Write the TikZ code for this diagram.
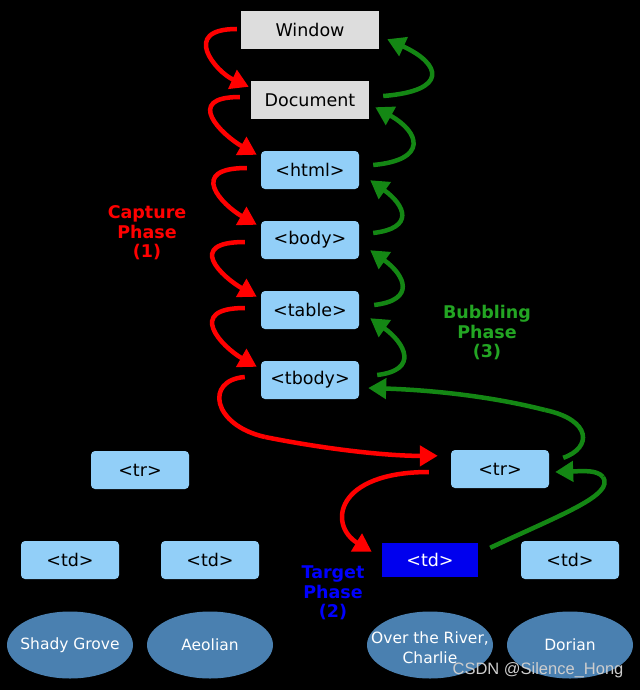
\documentclass[tikz,border=0pt]{standalone}
\usepackage{fontspec}
\setmainfont{DejaVu Sans}
\newfontfamily\wmfont{Liberation Sans}
\usetikzlibrary{arrows.meta,shapes.geometric}
\definecolor{boxblue}{RGB}{146,207,248}
\definecolor{boxgray}{RGB}{221,221,221}
\definecolor{ellblue}{RGB}{74,128,176}
\definecolor{grnarrow}{RGB}{20,135,20}
\definecolor{grntext}{RGB}{35,165,35}
\definecolor{tgtblue}{RGB}{0,0,238}
\definecolor{wmgray}{RGB}{205,205,205}
\begin{document}
\begin{tikzpicture}[x=1pt,y=1pt,
  boxtext/.style={font=\fontsize{17.5}{20}\selectfont, inner sep=0pt},
  graybox/.style={boxtext, fill=boxgray, minimum height=38pt},
  bluebox/.style={boxtext, fill=boxblue, rounded corners=4pt, minimum width=98pt, minimum height=38pt},
  tgtbox/.style={boxtext, fill=tgtblue, text=white, minimum width=96pt, minimum height=34pt},
  leaf/.style={ellipse, fill=ellblue, minimum width=126pt, minimum height=67pt, inner sep=0pt},
  leaftext/.style={text=white, align=center, inner sep=0pt, font=\fontsize{15.5}{20}\selectfont},
  phase/.style={align=center, inner sep=0pt, font=\bfseries\fontsize{17.5}{19.5}\selectfont},
  redarr/.style={draw=red, line width=4.5pt, -{Triangle[length=18pt,width=20pt]}},
  grnarr/.style={draw=grnarrow, line width=4.5pt, -{Triangle[length=18pt,width=20pt]}},
]
\useasboundingbox (0,0) rectangle (640,-690);
\fill[black] (0,0) rectangle (640,-690);

% stacked nodes
\node[graybox, minimum width=138pt] (win) at (310,-30) {Window};
\node[graybox, minimum width=118pt] (doc) at (310,-100) {Document};
\node[bluebox] (html) at (310,-170) {<html>};
\node[bluebox] (body) at (310,-240) {<body>};
\node[bluebox] (table) at (310,-310) {<table>};
\node[bluebox] (tbody) at (310,-380) {<tbody>};

% rows
\node[bluebox] (trl) at (140,-470) {<tr>};
\node[bluebox] (trr) at (500,-469) {<tr>};

% cells
\node[bluebox] (td1) at (70,-560) {<td>};
\node[bluebox] (td2) at (210,-560) {<td>};
\node[tgtbox] (td3) at (430,-560) {<td>};
\node[bluebox] (td4) at (570,-560) {<td>};

% leaves
\node[leaf] (l1) at (70,-645) {};
\node[leaftext] at (l1) {Shady Grove};
\node[leaf] (l2) at (210,-645) {};
\node[leaftext] at (l2) {Aeolian};
\node[leaf] (l3) at (430,-645) {};
\node[leaftext] at ([yshift=-3pt]l3) {Over the River,\\Charlie};
\node[leaf] (l4) at (570,-645) {};
\node[leaftext] at (l4) {Dorian};

% phase labels
\node[phase, text=red] (cap) at (147,-233) {Capture\\Phase\\(1)};
\node[phase, text=grntext] (bub) at (487,-333) {Bubbling\\Phase\\(3)};
\node[phase, text=blue] (tgt) at (333,-593) {Target\\Phase\\(2)};

% capture arrows
\draw[redarr] ([xshift=-4pt,yshift=1pt]win.west) .. controls +(-57,0) and +(-33,15) .. ([xshift=-2pt,yshift=-6pt]doc.north west);
\draw[redarr] ([xshift=-11pt,yshift=3pt]doc.west) .. controls +(-57,0) and +(-35,20) .. ([xshift=-4pt,yshift=-4pt]html.north west);
\draw[redarr] ([xshift=-14pt,yshift=2pt]html.west) .. controls +(-60,0) and +(-35,20) .. ([xshift=-4pt,yshift=-4pt]body.north west);
\draw[redarr] ([xshift=-16pt,yshift=-2pt]body.west) .. controls +(-60,0) and +(-35,20) .. ([xshift=-4pt,yshift=-6pt]table.north west);
\draw[redarr] ([xshift=-16pt,yshift=2pt]table.west) .. controls +(-60,0) and +(-35,20) .. ([xshift=-4pt,yshift=-6pt]tbody.north west);
\coordinate (rmid) at (265,-437);
\draw[draw=red, line width=4.5pt] ([xshift=-16pt,yshift=3pt]tbody.west) .. controls +(-40,-3) and (212,-425) .. (rmid);
\draw[redarr] (rmid) .. controls (330,-450) and (390,-456) .. ([xshift=-13pt,yshift=-6pt]trr.north west);
\draw[redarr] ([xshift=-22pt,yshift=-3pt]trr.west) .. controls (335,-472) and (328,-525) .. ([xshift=-10pt,yshift=-9pt]td3.north west);

% bubbling arrows
\draw[grnarr] ([xshift=14pt,yshift=4pt]doc.east) .. controls +(65,5) and +(55,-25) .. ([xshift=8pt,yshift=10pt]win.south east);
\draw[grnarr] ([xshift=14pt,yshift=5pt]html.east) .. controls +(55,5) and +(45,-25) .. ([xshift=6pt,yshift=12pt]doc.south east);
\draw[grnarr] ([xshift=14pt,yshift=7pt]body.east) .. controls +(42,5) and +(35,-25) .. ([xshift=11pt,yshift=9pt]html.south east);
\draw[grnarr] ([xshift=15pt,yshift=5pt]table.east) .. controls +(42,5) and +(35,-25) .. ([xshift=11pt,yshift=9pt]body.south east);
\draw[grnarr] ([xshift=18pt,yshift=5pt]tbody.east) .. controls +(42,5) and +(35,-25) .. ([xshift=11pt,yshift=11pt]table.south east);
\coordinate (gmid) at (545,-410);
\draw[draw=grnarrow, line width=4.5pt] ([xshift=14pt,yshift=-8pt]trr.north east) .. controls +(29,10) and (592,-420) .. (gmid);
\draw[grnarr] (gmid) .. controls (490,-396) and (430,-390) .. ([xshift=9pt,yshift=-8pt]tbody.east);
\coordinate (gtop) at (603,-477);
\draw[draw=grnarrow, line width=4.5pt] ([xshift=12pt,yshift=-5pt]td3.north east) .. controls (560,-515) and (615,-495) .. (gtop);
\draw[grnarr] (gtop) .. controls (597,-470) and (585,-471) .. ([xshift=6pt,yshift=-3pt]trr.east);

% watermark
\node[text=wmgray, inner sep=0pt, font=\wmfont\fontsize{16.5}{18}\selectfont] (wm) at (538,-670) {CSDN @Silence\_Hong};
\end{tikzpicture}
\end{document}
